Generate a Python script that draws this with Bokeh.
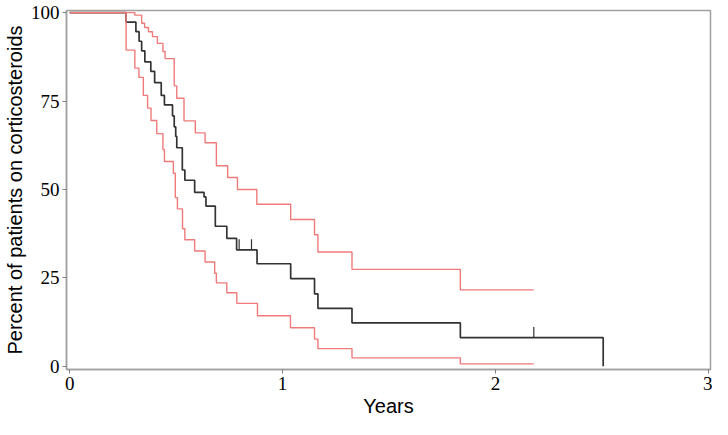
from bokeh.plotting import figure
from bokeh.models import Range1d, FixedTicker
from bokeh.embed import file_html
from bokeh.resources import INLINE

# Kaplan-Meier estimate (years, percent on corticosteroids)
km_t = [0.0, 0.265, 0.311, 0.326, 0.338, 0.353, 0.381, 0.399, 0.430, 0.445, 0.483,
        0.491, 0.498, 0.503, 0.529, 0.541, 0.587, 0.631, 0.640, 0.684, 0.738,
        0.784, 0.880, 1.038, 1.150, 1.166, 1.326, 1.835, 2.506]
km_s = [100, 97.3, 94.6, 91.9, 89.2, 86.1, 83.4, 80.2, 76.6, 73.9, 70.8,
        67.7, 65.0, 61.8, 55.5, 52.6, 49.2, 47.9, 45.3, 39.6, 36.2,
        32.9, 29.0, 24.8, 20.5, 16.4, 12.3, 8.1, 0.0]

# censored observations
cens_t = [0.796, 0.854, 2.180]
cens_s = [32.9, 32.9, 8.1]

# upper confidence band
up_t = [0.0, 0.306, 0.338, 0.352, 0.370, 0.389, 0.412, 0.438, 0.448, 0.491, 0.503,
        0.537, 0.590, 0.636, 0.689, 0.742, 0.788, 0.879, 1.038, 1.150, 1.166,
        1.326, 1.835, 2.180]
up_s = [100, 99.3, 97.0, 95.8, 94.6, 93.2, 91.3, 89.0, 87.0, 79.3, 75.8,
        69.4, 66.0, 63.2, 56.7, 53.4, 50.0, 45.8, 41.5, 37.2, 32.3,
        27.4, 21.6, 21.6]

# lower confidence band
lo_t = [0.0, 0.265, 0.306, 0.325, 0.346, 0.366, 0.382, 0.409, 0.438, 0.445, 0.487,
        0.496, 0.506, 0.530, 0.541, 0.587, 0.636, 0.681, 0.689, 0.738, 0.785,
        0.882, 1.037, 1.150, 1.166, 1.326, 1.835, 2.180]
lo_s = [100, 89.4, 84.3, 81.7, 76.6, 73.0, 69.5, 65.8, 61.3, 57.9, 54.6,
        47.7, 44.5, 38.9, 35.8, 32.6, 29.5, 26.3, 23.6, 20.8, 17.8,
        14.3, 10.9, 7.7, 5.0, 2.4, 0.7, 0.7]

x_ticks = [0, 1, 2, 3]
y_ticks = [0, 25, 50, 75, 100]

p = figure(width=712, height=419, output_backend="svg", toolbar_location=None,
           x_range=Range1d(-0.015, 3.01), y_range=Range1d(-0.9, 100.6),
           min_border_left=55, min_border_right=2, min_border_top=10,
           min_border_bottom=42)
p.grid.visible = False
p.background_fill_color = "white"
p.border_fill_color = "white"
p.outline_line_color = "#a0a0a0"
p.outline_line_width = 1.5

black = "#333333"
red = "#f07a7a"

p.step(km_t, km_s, mode="after", line_color=black, line_width=1.7)
p.segment(x0=cens_t, x1=cens_t, y0=cens_s, y1=[s + 3 for s in cens_s],
          line_color=black, line_width=1.2)
p.step(up_t, up_s, mode="after", line_color=red, line_width=1.4)
p.step(lo_t, lo_s, mode="after", line_color=red, line_width=1.4)

p.xaxis.ticker = FixedTicker(ticks=x_ticks)
p.yaxis.ticker = FixedTicker(ticks=y_ticks)
p.axis.minor_tick_line_color = None
p.axis.major_tick_in = 0
p.axis.major_tick_out = 4
p.axis.axis_line_color = "#a0a0a0"
p.axis.axis_line_width = 1.5
p.axis.major_tick_line_color = "#808080"
p.axis.major_label_text_font = "Liberation Serif"
p.axis.major_label_text_font_size = "19px"
p.axis.major_label_text_color = "black"
p.axis.major_label_standoff = 3
p.xaxis.axis_label = "Years"
p.yaxis.axis_label = "Percent of patients on corticosteroids"
p.axis.axis_label_text_font = "Liberation Sans"
p.axis.axis_label_text_font_size = "20px"
p.axis.axis_label_text_font_style = "normal"
p.axis.axis_label_text_color = "black"
p.yaxis.axis_label_standoff = 2
p.xaxis.axis_label_standoff = 2

open("out.html", "w").write(file_html(p, INLINE))
